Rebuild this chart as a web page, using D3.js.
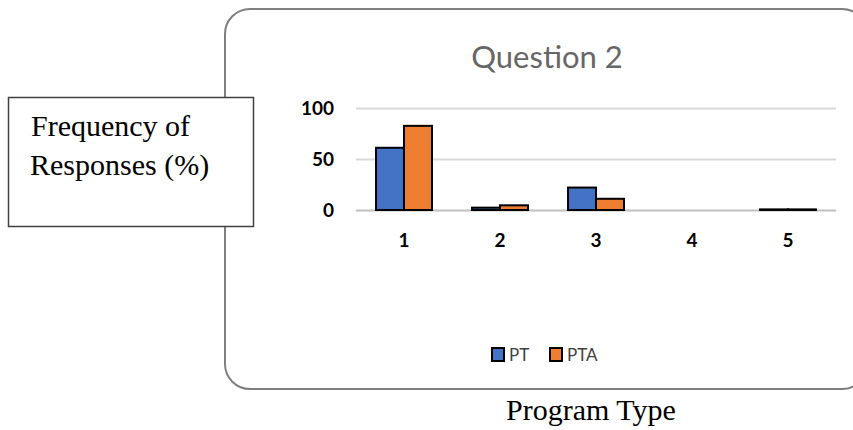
<!DOCTYPE html>
<html>
<head>
<meta charset="utf-8">
<script src="https://cdn.jsdelivr.net/npm/d3@7"></script>
<style>
  html, body { margin: 0; padding: 0; background: #ffffff; }
  svg { display: block; }
</style>
</head>
<body>
<svg id="chart" width="853" height="430"></svg>
<script>
// Program types on the category axis
const categories = ["1", "2", "3", "4", "5"];
// Frequency of responses (%) per program type
const seriesNames = ["PT", "PTA"];
const ptValues = [61, 2.3, 22, 0, 0.6];
const ptaValues = [82.5, 4.6, 11, 0, 0.6];
const yTicks = [0, 50, 100];
const seriesColors = ["#4472c4", "#ed7d31"];

const svg = d3.select("#chart");

// Chart area frame with rounded corners
svg.append("rect")
  .attr("x", 225).attr("y", 9)
  .attr("width", 642).attr("height", 380)
  .attr("rx", 25).attr("ry", 25)
  .attr("fill", "#ffffff")
  .attr("stroke", "#7f7f7f")
  .attr("stroke-width", 2);

// Title
svg.append("text")
  .attr("x", 547).attr("y", 68)
  .attr("text-anchor", "middle")
  .attr("font-family", "Lato, 'Open Sans', sans-serif")
  .attr("font-size", 31)
  .attr("fill", "#666666")
  .text("Question 2");

// Scales
const x0 = d3.scaleBand()
  .domain(categories)
  .range([356, 836])
  .paddingInner(0.417)
  .paddingOuter(0.2085);
const x1 = d3.scaleBand()
  .domain(seriesNames)
  .range([0, x0.bandwidth()]);
const y = d3.scaleLinear().domain([0, 100]).range([210, 108]);

// Horizontal gridlines
const grid = svg.append("g")
  .attr("transform", "translate(356,0)")
  .call(d3.axisLeft(y).tickValues(yTicks).tickSize(-480).tickFormat(""));
grid.select(".domain").remove();
grid.selectAll(".tick line")
  .attr("stroke", d => d === 0 ? "#bfbfbf" : "#d9d9d9")
  .attr("stroke-width", 2);

// Y tick labels
const yAxis = svg.append("g")
  .attr("transform", "translate(334,0)")
  .call(d3.axisLeft(y).tickValues(yTicks).tickSize(0).tickPadding(0));
yAxis.select(".domain").remove();
yAxis.selectAll("text")
  .attr("font-family", "Lato, 'Open Sans', sans-serif")
  .attr("font-weight", "bold")
  .attr("font-size", 19)
  .attr("fill", "#000000");

// Bars
const rows = categories.map((c, i) => ({ cat: c, vals: [ptValues[i], ptaValues[i]] }));
const groups = svg.append("g").selectAll("g")
  .data(rows).join("g")
  .attr("transform", d => `translate(${x0(d.cat)},0)`);
groups.selectAll("rect")
  .data(d => d.vals.map((v, j) => ({ name: seriesNames[j], v, j })).filter(e => e.v > 0))
  .join("rect")
  .attr("x", e => x1(e.name))
  .attr("y", e => y(e.v))
  .attr("width", x1.bandwidth())
  .attr("height", e => y(0) - y(e.v))
  .attr("fill", e => seriesColors[e.j])
  .attr("stroke", "#000000")
  .attr("stroke-width", 2);

// X tick labels
const xAxis = svg.append("g")
  .attr("transform", "translate(0,233)")
  .call(d3.axisBottom(x0).tickSize(0).tickPadding(0));
xAxis.select(".domain").remove();
xAxis.selectAll("text")
  .attr("font-family", "Lato, 'Open Sans', sans-serif")
  .attr("font-weight", "bold")
  .attr("font-size", 19)
  .attr("fill", "#000000");

// Legend
const legend = svg.append("g").attr("transform", "translate(492,354)");
const legendOffsets = [0, 58];
seriesNames.forEach((name, j) => {
  const g = legend.append("g").attr("transform", `translate(${legendOffsets[j]},0)`);
  g.append("rect")
    .attr("x", 0).attr("y", -6)
    .attr("width", 12).attr("height", 13)
    .attr("fill", seriesColors[j])
    .attr("stroke", "#000000")
    .attr("stroke-width", 2);
  g.append("text")
    .attr("x", 17).attr("y", 6.5)
    .attr("font-family", "Lato, 'Open Sans', sans-serif")
    .attr("font-size", 17)
    .attr("fill", "#404040")
    .text(name);
});

// Y-axis caption box
svg.append("rect")
  .attr("x", 8.5).attr("y", 97.5)
  .attr("width", 245).attr("height", 129)
  .attr("fill", "#ffffff")
  .attr("stroke", "#404040")
  .attr("stroke-width", 1.5);
const cap = svg.append("text")
  .attr("font-family", "'Liberation Serif', 'Times New Roman', serif")
  .attr("font-size", 30)
  .attr("fill", "#000000");
cap.append("tspan").attr("x", 31).attr("y", 136).text("Frequency of");
cap.append("tspan").attr("x", 30).attr("y", 175).text("Responses (%)");

// X-axis caption
svg.append("text")
  .attr("x", 506).attr("y", 420)
  .attr("font-family", "'Liberation Serif', 'Times New Roman', serif")
  .attr("font-size", 30)
  .attr("fill", "#000000")
  .text("Program Type");
</script>
</body>
</html>
